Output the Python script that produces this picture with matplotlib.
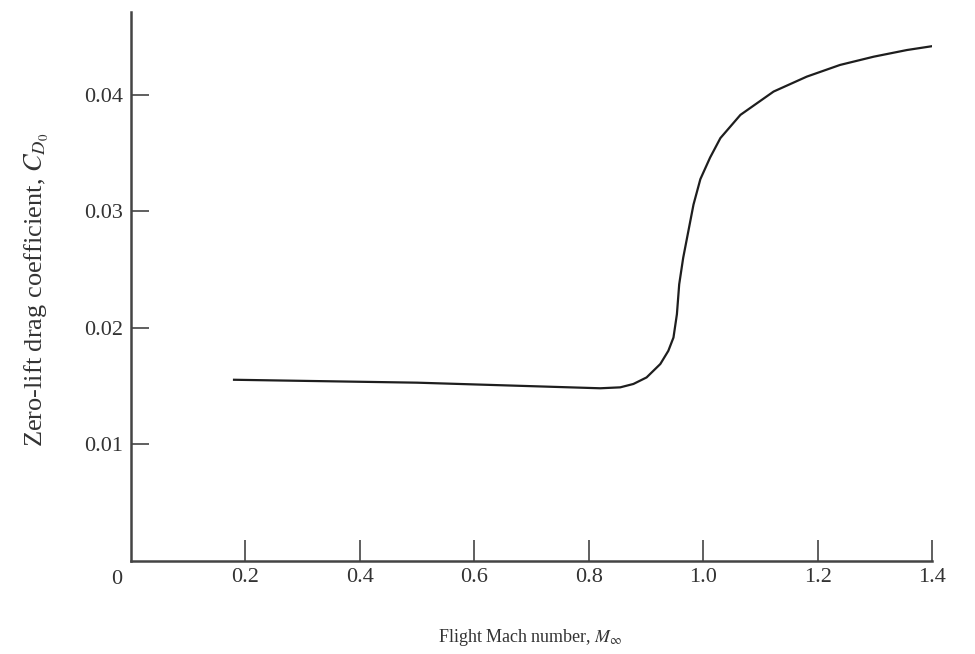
import numpy as np
import matplotlib.pyplot as plt

# values
mach = [0.18, 0.50, 0.82, 0.855, 0.878, 0.901, 0.925, 0.939, 0.948, 0.954,
        0.958, 0.965, 0.974, 0.983, 0.995, 1.012, 1.030, 1.065, 1.123, 1.181,
        1.239, 1.298, 1.356, 1.40]
cd0 = [0.01555, 0.0153, 0.01482, 0.0149, 0.01519, 0.01575, 0.0169, 0.01803, 0.01917, 0.02117,
       0.02373, 0.02601, 0.02829, 0.03057, 0.03275, 0.03460, 0.03627, 0.03826, 0.04026, 0.04154,
       0.04254, 0.04325, 0.04382, 0.04415]

xticks = [0.2, 0.4, 0.6, 0.8, 1.0, 1.2, 1.4]
xlabels = ["0.2", "0.4", "0.6", "0.8", "1.0", "1.2", "1.4"]
yticks = [0.01, 0.02, 0.03, 0.04]
ylabels = ["0.01", "0.02", "0.03", "0.04"]

plt.rcParams['font.family'] = ['Liberation Serif', 'DejaVu Serif']
plt.rcParams['mathtext.fontset'] = 'stix'

txt = '#333333'

fig = plt.figure(figsize=(9.75, 6.54), dpi=100)
ax = fig.add_axes([0.1344, 0.142, 0.8216, 0.84])

ax.plot(mach, cd0, color='#1e1e1e', lw=1.6, solid_joinstyle='round')

ax.set_xlim(0, 1.4)
ax.set_ylim(0, 0.0471)

for s in ['top', 'right']:
    ax.spines[s].set_visible(False)
for s in ['left', 'bottom']:
    ax.spines[s].set_color('#444444')
    ax.spines[s].set_linewidth(1.8)

ax.set_xticks(xticks)
ax.set_xticklabels(xlabels)
ax.set_yticks(yticks)
ax.set_yticklabels(ylabels)
ax.tick_params(axis='x', direction='in', length=15, width=1.2, color='#444444',
               labelsize=16, labelcolor=txt, pad=5)
ax.tick_params(axis='y', direction='in', length=13, width=1.2, color='#444444',
               labelsize=16, labelcolor=txt, pad=6)

# origin label sits left of the corner
ax.annotate("0", xy=(0, 0), xytext=(-10, -13), textcoords='offset points',
            ha='center', va='center', fontsize=16, color=txt)

fig.text(530/975, 1 - 638/654, r"Flight Mach number, $M_\infty$",
         fontsize=13, color=txt, ha='center', va='center')
fig.text(37/975, 1 - 290/654, r"Zero-lift drag coefficient, $C_{D_0}$",
         fontsize=19, color=txt, ha='center', va='center', rotation=90)

fig.savefig("out.png", dpi=100)
